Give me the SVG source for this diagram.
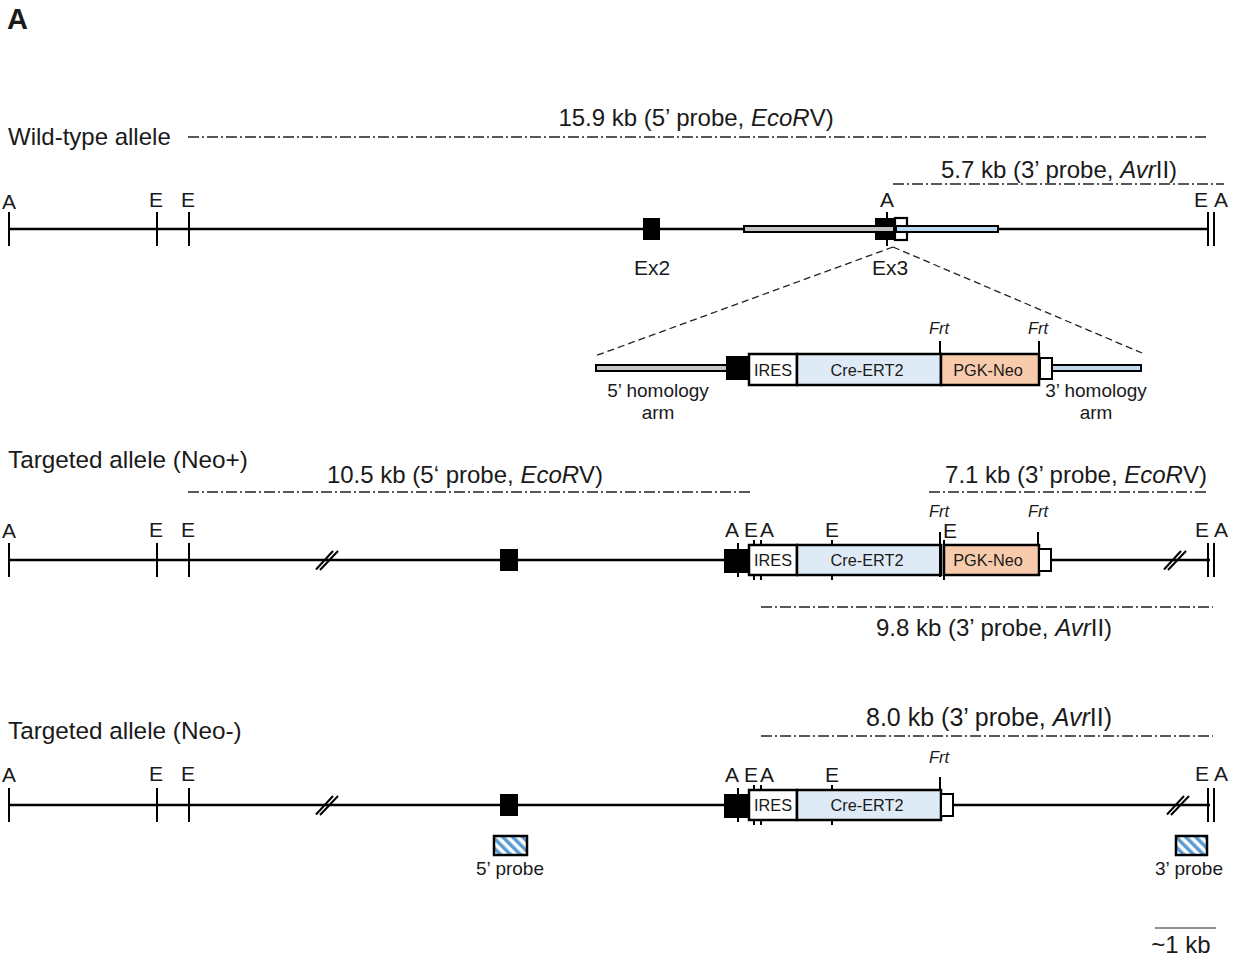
<svg xmlns="http://www.w3.org/2000/svg" width="1243" height="960" viewBox="0 0 1243 960">
<style>
text{font-family:"Liberation Sans",Arial,sans-serif;fill:#1a1a1a}
.t24{font-size:24px}.t243{font-size:24.3px}.t21{font-size:21px}.t19{font-size:19px}.t16{font-size:16.3px}.fr{font-size:16.5px;font-style:italic}
.m{text-anchor:middle}
.l{stroke:#000;stroke-width:2.5;fill:none}
.tk{stroke:#000;stroke-width:2;fill:none}
.dd{stroke:#222;stroke-width:1.4;stroke-dasharray:11 3 2 3;fill:none}
.zd{stroke:#222;stroke-width:1.3;stroke-dasharray:7 4;fill:none}
.ex{fill:#000}
.b{stroke:#000;stroke-width:2.5}
.arm{stroke:#000;stroke-width:2}
.w{fill:#fff}.c{fill:#deeaf6}.n{fill:#f8cbad}.g{fill:#c4c4c4}.bl{fill:#bdd7ee}
</style>
<defs>
<pattern id="hatch" width="7" height="7" patternUnits="userSpaceOnUse" patternTransform="rotate(-45)">
<rect width="7" height="7" fill="#fff"/><rect width="3.500" height="7" fill="#5b9bd5"/>
</pattern>
<g id="brk"><path d="M-7 9.500L10 -9M-3 10L15 -9" class="tk"/></g>
</defs>
<rect width="1243" height="960" fill="#fff"/>
<g id="connectors">
<path class="l" d="M8 229H743M998 229H1208"/>
<path class="tk" d="M9 212V246M157 212V246M189 212V246M1208 212V246M1214 212V246"/>
<path class="tk" d="M887 212V246"/>
<path class="dd" d="M188 137H1207M893 184H1224M188 492H751M929 492H1208M761 607H1213M761 736H1213"/>
<path class="zd" d="M893 247L595 356M893 247L1142 353"/>
<path class="l" d="M8 560H725M1050 560H1210"/>
<path class="tk" d="M9 543V577M157 543V577M189 543V577M1208 543V577M1214 543V577"/>
<path class="l" d="M8 805H725M952 805H1210"/>
<path class="tk" d="M9 788V822M157 788V822M189 788V822M1208 788V822M1214 788V822"/>
<path d="M1155 928H1216" stroke="#222" stroke-width="1" fill="none"/>
</g>
<g id="wild-type">
<rect class="ex" x="643" y="218" width="17" height="22"/>
<rect class="ex" x="875" y="218" width="20" height="22"/>
<rect class="g arm" x="744" y="226" width="150" height="6"/>
<rect x="895" y="218" width="12" height="22" fill="#fff" stroke="#000" stroke-width="2.200"/>
<rect class="bl arm" x="896" y="226" width="102" height="6"/>
<text class="t24" x="8" y="145">Wild-type allele</text>
<text class="t24 m" x="696" y="126">15.9 kb (5’ probe, <tspan font-style="italic">EcoR</tspan>V)</text>
<text class="t24 m" x="1059" y="178">5.7 kb (3’ probe, <tspan font-style="italic">Avr</tspan>II)</text>
<text class="t21 m" x="9" y="209">A</text><text class="t21 m" x="156" y="207">E</text><text class="t21 m" x="188" y="207">E</text>
<text class="t21 m" x="887" y="207">A</text><text class="t21 m" x="1201" y="207">E</text><text class="t21 m" x="1221" y="207">A</text>
<text class="t21 m" x="652" y="275">Ex2</text><text class="t21 m" x="890" y="275">Ex3</text>
</g>
<g id="construct">
<rect class="g arm" x="596" y="365" width="132" height="6"/>
<rect class="ex" x="726" y="356" width="24" height="24"/>
<rect class="w b" x="749" y="354" width="48" height="31"/>
<rect class="c b" x="797" y="354" width="144" height="31"/>
<rect class="n b" x="941" y="354" width="98" height="31"/>
<rect x="1040" y="358" width="12" height="21" fill="#fff" stroke="#000" stroke-width="2"/>
<rect class="bl arm" x="1052" y="365" width="89" height="6"/>
<path class="tk" d="M940 341V354M1039 341V354"/>
<text class="t16 m" x="773" y="376">IRES</text><text class="t16 m" x="867" y="376">Cre-ERT2</text><text class="t16 m" x="988" y="376">PGK-Neo</text>
<text class="fr m" x="939" y="334">Frt</text><text class="fr m" x="1038" y="334">Frt</text>
<text class="t19 m" x="658" y="397">5’ homology</text><text class="t19 m" x="658" y="419">arm</text>
<text class="t19 m" x="1096" y="397">3’ homology</text><text class="t19 m" x="1096" y="419">arm</text>
</g>
<g id="neo-plus">
<path class="tk" d="M738 543V577M754 540V580M761 540V580M832 540V580M944 540V580"/>
<rect class="ex" x="500" y="549" width="18" height="22"/>
<rect class="ex" x="724" y="549" width="26" height="24"/>
<rect class="w b" x="749" y="545" width="48" height="30"/>
<rect class="c b" x="797" y="545" width="144" height="30"/>
<rect class="n b" x="944" y="545" width="95" height="30"/>
<rect x="1039" y="549" width="12" height="22" fill="#fff" stroke="#000" stroke-width="2"/>
<path class="tk" d="M738 543V577M940 532V577M944 540V580M1038 532V545"/>
<use href="#brk" x="323" y="560"/><use href="#brk" x="1171" y="560"/>
<text class="t243" x="8" y="468">Targeted allele (Neo+)</text>
<text class="t24 m" x="465" y="483">10.5 kb (5‘ probe, <tspan font-style="italic">EcoR</tspan>V)</text>
<text class="t24 m" x="1076" y="483">7.1 kb (3’ probe, <tspan font-style="italic">EcoR</tspan>V)</text>
<text class="t24 m" x="994" y="636">9.8 kb (3’ probe, <tspan font-style="italic">Avr</tspan>II)</text>
<text class="t21 m" x="9" y="538">A</text><text class="t21 m" x="156" y="537">E</text><text class="t21 m" x="188" y="537">E</text>
<text class="t21 m" x="732" y="537">A</text><text class="t21 m" x="751" y="537">E</text><text class="t21 m" x="767" y="537">A</text><text class="t21 m" x="832" y="537">E</text><text class="t21 m" x="950" y="538">E</text>
<text class="t21 m" x="1202" y="537">E</text><text class="t21 m" x="1221" y="537">A</text>
<text class="fr m" x="939" y="517">Frt</text><text class="fr m" x="1038" y="517">Frt</text>
<text class="t16 m" x="773" y="566">IRES</text><text class="t16 m" x="867" y="566">Cre-ERT2</text><text class="t16 m" x="988" y="566">PGK-Neo</text>
</g>
<g id="neo-minus">
<path class="tk" d="M754 785V825M761 785V825M832 785V825"/>
<rect class="ex" x="500" y="794" width="18" height="22"/>
<rect class="ex" x="724" y="794" width="26" height="24"/>
<rect class="w b" x="749" y="790" width="48" height="30"/>
<rect class="c b" x="797" y="790" width="144" height="30"/>
<rect x="941" y="794" width="12" height="22" fill="#fff" stroke="#000" stroke-width="2"/>
<path class="tk" d="M738 788V822M940 777V790"/>
<use href="#brk" x="323" y="805"/><use href="#brk" x="1174" y="805"/>
<text class="t243" x="8" y="739">Targeted allele (Neo-)</text>
<text class="t24 m" x="989" y="726" style="font-size:25px">8.0 kb (3’ probe, <tspan font-style="italic">Avr</tspan>II)</text>
<text class="t21 m" x="9" y="782">A</text><text class="t21 m" x="156" y="781">E</text><text class="t21 m" x="188" y="781">E</text>
<text class="t21 m" x="732" y="782">A</text><text class="t21 m" x="751" y="782">E</text><text class="t21 m" x="767" y="782">A</text><text class="t21 m" x="832" y="782">E</text>
<text class="t21 m" x="1202" y="781">E</text><text class="t21 m" x="1221" y="781">A</text>
<text class="fr m" x="939" y="763">Frt</text>
<text class="t16 m" x="773" y="811">IRES</text><text class="t16 m" x="867" y="811">Cre-ERT2</text>
</g>
<g id="probe5"><rect x="494" y="836" width="33" height="19" fill="url(#hatch)" stroke="#000" stroke-width="2.5"/><text class="t19 m" x="510" y="875">5’ probe</text></g>
<g id="probe3"><rect x="1176" y="836" width="31" height="19" fill="url(#hatch)" stroke="#000" stroke-width="2.5"/><text class="t19 m" x="1189" y="875">3’ probe</text></g>
<text id="scale" class="t24 m" x="1181" y="953">~1 kb</text>
<text id="panel" x="7" y="29" font-size="29" font-weight="bold">A</text>
</svg>
